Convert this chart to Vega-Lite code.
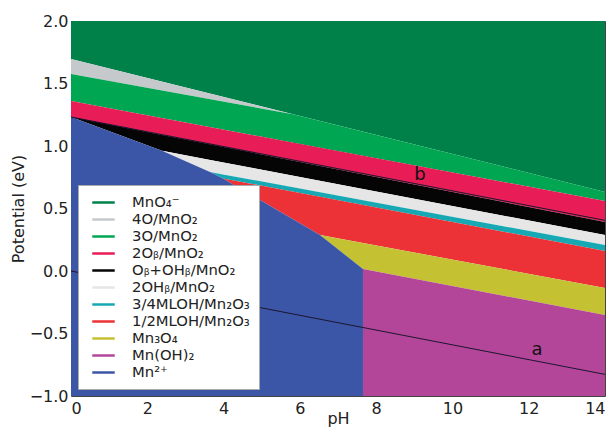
{
  "$schema": "https://vega.github.io/schema/vega-lite/v6.json",
  "width": 534,
  "height": 375,
  "autosize": {"type": "none"},
  "padding": {"left": 71, "top": 21, "right": 10, "bottom": 31},
  "background": "white",
  "config": {
    "view": {"stroke": "#444", "strokeWidth": 1},
    "font": "DejaVu Sans",
    "axis": {"grid": false, "ticks": false, "domain": false, "labelFont": "DejaVu Sans", "labelFontSize": 16, "labelColor": "#222", "titleFont": "DejaVu Sans", "titleFontSize": 16, "titleFontWeight": "normal", "titleColor": "#222"}
  },
  "datasets": {
    "regions": [
      {"r": "MnO₄⁻", "pH": 0, "lo": 1.696, "hi": 2.0},
      {"r": "MnO₄⁻", "pH": 14, "lo": 0.632, "hi": 2.0},
      {"r": "4O/MnO₂", "pH": 0, "lo": 1.576, "hi": 1.696},
      {"r": "4O/MnO₂", "pH": 5.82, "lo": 1.254, "hi": 1.254},
      {"r": "3O/MnO₂", "pH": 0, "lo": 1.36, "hi": 1.576},
      {"r": "3O/MnO₂", "pH": 5.82, "lo": 1.027, "hi": 1.254},
      {"r": "3O/MnO₂", "pH": 14, "lo": 0.56, "hi": 0.632},
      {"r": "2Oᵦ/MnO₂", "pH": 0, "lo": 1.232, "hi": 1.36},
      {"r": "2Oᵦ/MnO₂", "pH": 14, "lo": 0.392, "hi": 0.56},
      {"r": "Oᵦ+OHᵦ/MnO₂", "pH": 0, "lo": 1.232, "hi": 1.232},
      {"r": "Oᵦ+OHᵦ/MnO₂", "pH": 2.386, "lo": 0.962, "hi": 1.089},
      {"r": "Oᵦ+OHᵦ/MnO₂", "pH": 14, "lo": 0.288, "hi": 0.392},
      {"r": "2OHᵦ/MnO₂", "pH": 2.386, "lo": 0.962, "hi": 0.962},
      {"r": "2OHᵦ/MnO₂", "pH": 3.644, "lo": 0.792, "hi": 0.889},
      {"r": "2OHᵦ/MnO₂", "pH": 14, "lo": 0.208, "hi": 0.288},
      {"r": "3/4MLOH/Mn₂O₃", "pH": 3.644, "lo": 0.792, "hi": 0.792},
      {"r": "3/4MLOH/Mn₂O₃", "pH": 3.985, "lo": 0.741, "hi": 0.773},
      {"r": "3/4MLOH/Mn₂O₃", "pH": 14, "lo": 0.16, "hi": 0.208},
      {"r": "1/2MLOH/Mn₂O₃", "pH": 3.985, "lo": 0.741, "hi": 0.741},
      {"r": "1/2MLOH/Mn₂O₃", "pH": 6.528, "lo": 0.288, "hi": 0.594},
      {"r": "1/2MLOH/Mn₂O₃", "pH": 14, "lo": -0.136, "hi": 0.16},
      {"r": "Mn₃O₄", "pH": 6.528, "lo": 0.288, "hi": 0.288},
      {"r": "Mn₃O₄", "pH": 7.655, "lo": 0.016, "hi": 0.224},
      {"r": "Mn₃O₄", "pH": 14, "lo": -0.352, "hi": -0.136},
      {"r": "Mn(OH)₂", "pH": 7.655, "lo": -1.0, "hi": 0.016},
      {"r": "Mn(OH)₂", "pH": 14, "lo": -1.0, "hi": -0.352},
      {"r": "Mn²⁺", "pH": 0, "lo": -1.0, "hi": 1.232},
      {"r": "Mn²⁺", "pH": 2.386, "lo": -1.0, "hi": 0.962},
      {"r": "Mn²⁺", "pH": 3.644, "lo": -1.0, "hi": 0.792},
      {"r": "Mn²⁺", "pH": 3.985, "lo": -1.0, "hi": 0.741},
      {"r": "Mn²⁺", "pH": 6.528, "lo": -1.0, "hi": 0.288},
      {"r": "Mn²⁺", "pH": 7.655, "lo": -1.0, "hi": 0.016}
    ],
    "lines": [
      {"line": "a", "pH": 0, "V": 0.0},
      {"line": "a", "pH": 14, "V": -0.827},
      {"line": "b", "pH": 0, "V": 1.232},
      {"line": "b", "pH": 14, "V": 0.405}
    ],
    "labels": [
      {"t": "a", "pH": 12.22, "V": -0.632},
      {"t": "b", "pH": 9.15, "V": 0.768}
    ]
  },
  "layer": [
    {
      "data": {"name": "lines"},
      "mark": {"type": "line", "strokeWidth": 1, "color": "#1c1530"},
      "encoding": {
        "x": {"field": "pH", "type": "quantitative", "scale": {"domain": [0, 14], "nice": false}, "axis": {"values": [0, 2, 4, 6, 8, 10, 12, 14], "format": "d", "labelPadding": 4, "title": "pH", "titleY": 30, "titleBaseline": "bottom"}},
        "y": {"field": "V", "type": "quantitative", "scale": {"domain": [-1, 2], "nice": false}, "axis": {"values": [-1, -0.5, 0, 0.5, 1, 1.5, 2], "format": ".1f", "labelPadding": 3, "titlePadding": 3, "title": "Potential (eV)"}},
        "detail": {"field": "line", "type": "nominal"}
      }
    },
    {
      "data": {"name": "regions"},
      "mark": {"type": "area", "strokeWidth": 0},
      "encoding": {
        "x": {"field": "pH", "type": "quantitative"},
        "y": {"field": "lo", "type": "quantitative", "stack": null},
        "y2": {"field": "hi"},
        "fill": {"field": "r", "type": "nominal",
          "scale": {"domain": ["MnO₄⁻", "4O/MnO₂", "3O/MnO₂", "2Oᵦ/MnO₂", "Oᵦ+OHᵦ/MnO₂", "2OHᵦ/MnO₂", "3/4MLOH/Mn₂O₃", "1/2MLOH/Mn₂O₃", "Mn₃O₄", "Mn(OH)₂", "Mn²⁺"],
                    "range": ["#00814a", "#c6c9cc", "#00a651", "#e81c56", "#050505", "#e6e6e6", "#17a9b3", "#ec3237", "#c4c233", "#b4469a", "#3b56a6"]},
          "legend": {"title": null, "orient": "bottom-left", "offset": 7, "padding": 9, "fillColor": "white", "strokeColor": "#aaa", "cornerRadius": 0,
                     "symbolType": "M-1.55,0H1.55", "symbolSize": 210, "symbolStrokeWidth": 2.5, "symbolOffset": 8,
                     "labelFontSize": 14.8, "labelFont": "DejaVu Sans", "labelColor": "#222", "labelOffset": 20, "labelLimit": 300, "rowPadding": 1.0,
                     "encode": {"symbols": {"update": {"stroke": {"scale": "fill", "field": "value"}, "strokeWidth": {"value": 2.5}, "opacity": {"value": 1}}}}}}
      }
    },
    {
      "data": {"name": "lines"},
      "mark": {"type": "line", "strokeWidth": 1, "color": "#1c1530"},
      "encoding": {
        "x": {"field": "pH", "type": "quantitative"},
        "y": {"field": "V", "type": "quantitative"},
        "detail": {"field": "line", "type": "nominal"}
      }
    },
    {
      "data": {"name": "labels"},
      "mark": {"type": "text", "fontSize": 18, "color": "#111", "font": "DejaVu Sans"},
      "encoding": {
        "x": {"field": "pH", "type": "quantitative"},
        "y": {"field": "V", "type": "quantitative"},
        "text": {"field": "t"}
      }
    }
  ]
}
